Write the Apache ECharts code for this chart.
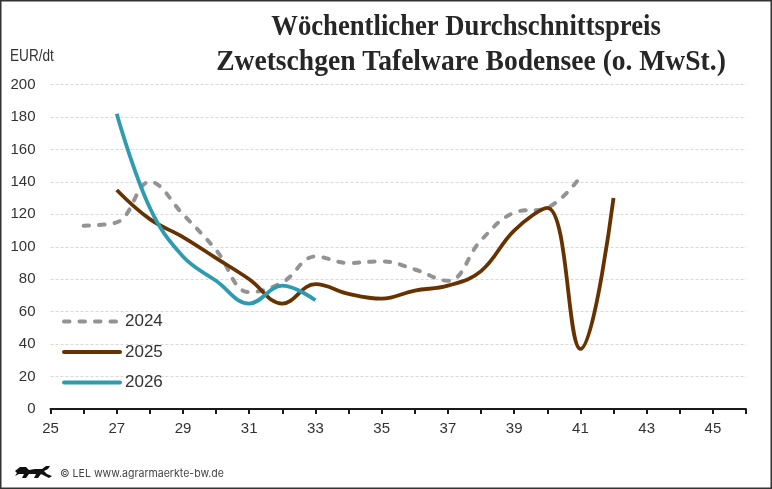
<!DOCTYPE html>
<html>
<head>
<meta charset="utf-8">
<script src="https://cdn.jsdelivr.net/npm/echarts@6/dist/echarts.min.js"></script>
<style>
  html, body { margin: 0; padding: 0; background: #fff; }
  #chart { width: 772px; height: 489px; }
</style>
</head>
<body>
<div id="chart"></div>
<script>
// Kalenderwochen und Preise (EUR/dt)
const weeks2024 = [26, 27, 28, 29, 30, 31, 32, 33, 34, 35, 36, 37, 38, 39, 40, 41];
const prices2024 = [113, 115, 140, 120, 98, 72, 78, 94, 90, 91, 86, 79, 104, 121, 124, 143];
const weeks2025 = [27, 28, 29, 30, 31, 32, 33, 34, 35, 36, 37, 38, 39, 40, 41, 42];
const prices2025 = [135, 117, 106, 93, 80, 65, 77, 71, 68, 73, 76, 85, 110, 124, 37, 130];
const weeks2026 = [27, 28, 29, 30, 31, 32, 33];
const prices2026 = [182, 124, 94, 79, 65, 76, 67];
const xTicks = [25, 27, 29, 31, 33, 35, 37, 39, 41, 43, 45];

const pairs = (xs, ys) => xs.map((x, i) => [x, ys[i]]);

const chart = echarts.init(document.getElementById("chart"));
chart.setOption({
  animation: false,
  backgroundColor: "#fff",
  textStyle: { fontFamily: "Liberation Sans, Arial, sans-serif" },
  grid: { left: 50.5, right: 26, top: 84.5, bottom: 80 },
  xAxis: {
    type: "value",
    min: 25,
    max: 46,
    interval: 1,
    axisLine: { lineStyle: { color: "#1a1a1a", width: 2 } },
    axisTick: { length: 5, lineStyle: { color: "#1a1a1a", width: 2 } },
    axisLabel: {
      color: "#333",
      fontSize: 15,
      margin: 12,
      formatter: (v) => (xTicks.includes(v) ? String(v) : ""),
    },
    splitLine: { show: false },
  },
  yAxis: {
    type: "value",
    min: 0,
    max: 200,
    interval: 20,
    axisLine: { show: false },
    axisTick: { show: false },
    axisLabel: { color: "#333", fontSize: 15, margin: 15 },
    splitLine: { lineStyle: { color: "#d9d9d9", type: [3, 2], width: 1 } },
  },
  legend: {
    orient: "vertical",
    left: 57,
    top: 308,
    itemWidth: 56,
    itemHeight: 14,
    itemGap: 13.5,
    itemStyle: { opacity: 0 },
    lineStyle: { width: 4, cap: "round" },
    textStyle: { color: "#333", fontSize: 17 },
    data: ["2024", "2025", "2026"],
  },
  series: [
    {
      name: "2024",
      type: "line",
      smooth: 0.4,
      symbol: "none",
      data: pairs(weeks2024, prices2024),
      itemStyle: { color: "#939393" },
      lineStyle: { color: "#939393", width: 4, type: [5.5, 10], cap: "round" },
      z: 2,
    },
    {
      name: "2025",
      type: "line",
      smooth: 0.4,
      symbol: "none",
      data: pairs(weeks2025, prices2025),
      itemStyle: { color: "#663300" },
      lineStyle: { color: "#663300", width: 3.8 },
      z: 3,
    },
    {
      name: "2026",
      type: "line",
      smooth: 0.4,
      symbol: "none",
      data: pairs(weeks2026, prices2026),
      itemStyle: { color: "#2e9bb0" },
      lineStyle: { color: "#2e9bb0", width: 3.8 },
      z: 4,
    },
  ],
  graphic: [
    {
      type: "rect",
      shape: { x: 0.75, y: 0.75, width: 770.5, height: 487.5 },
      style: { fill: "none", stroke: "#333", lineWidth: 1.5 },
      silent: true,
    },
    {
      type: "text",
      x: 466,
      y: 28,
      scaleX: 0.92,
      style: {
        text: "Wöchentlicher Durchschnittspreis",
        font: "bold 29px 'Liberation Serif', 'DejaVu Serif', serif",
        fill: "#262626",
        align: "center",
        verticalAlign: "middle",
      },
    },
    {
      type: "text",
      x: 471,
      y: 63,
      scaleX: 0.95,
      style: {
        text: "Zwetschgen Tafelware Bodensee (o. MwSt.)",
        font: "bold 29px 'Liberation Serif', 'DejaVu Serif', serif",
        fill: "#262626",
        align: "center",
        verticalAlign: "middle",
      },
    },
    {
      type: "text",
      x: 10,
      y: 57,
      scaleX: 0.85,
      style: {
        text: "EUR/dt",
        font: "16px 'Liberation Sans', Arial, sans-serif",
        fill: "#333",
        verticalAlign: "middle",
      },
    },
    {
      // grobe Silhouette des Landeswappen-Löwen
      type: "polygon",
      shape: {
        points: [
          [15, 471], [20, 467], [26, 467], [29, 470], [35, 469], [42, 469],
          [46, 466], [50, 466], [48, 469], [44, 471], [47, 474], [52, 476],
          [49, 478], [45, 476], [41, 474], [38, 478], [34, 478], [36, 474],
          [29, 474], [26, 478], [22, 478], [24, 474], [19, 474], [15, 476], [17, 473],
        ],
      },
      style: { fill: "#111" },
    },
    {
      type: "text",
      x: 60,
      y: 474,
      scaleX: 0.96,
      style: {
        text: "© LEL www.agrarmaerkte-bw.de",
        font: "11px Inter, Roboto, sans-serif",
        fill: "#444",
        verticalAlign: "middle",
      },
    },
  ],
});
</script>
</body>
</html>
